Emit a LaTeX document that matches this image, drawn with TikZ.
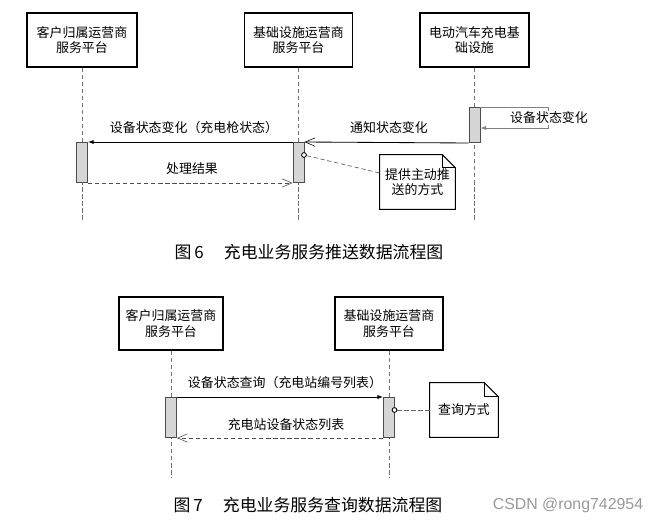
\documentclass[tikz,border=0pt]{standalone}
\usepackage{fontspec}
\newfontfamily\cjk{Noto Sans CJK SC}
\newfontfamily\wmfont{Liberation Sans}
\usetikzlibrary{arrows.meta}
\usetikzlibrary{calc}

\begin{document}
\begin{tikzpicture}[x=0.025cm, y=-0.025cm,
    party/.style={draw, line width=1.1pt, minimum height=1.35cm, align=center, inner sep=0pt,
        font=\cjk\fontsize{9.2}{11}\selectfont},
    lifeline/.style={draw=black!55, line width=0.5pt, dash pattern=on 3pt off 2pt},
    actbar/.style={draw=black!70, fill=black!16, line width=0.7pt, minimum width=0.275cm,
        inner sep=0pt, anchor=north},
    msg/.style={line width=0.6pt, -{Latex[length=4pt,width=3pt]}},
    push/.style={line width=0.6pt, -{Straight Barb[length=7pt,width=6pt,line width=0.4pt]}},
    reply/.style={line width=0.6pt, draw=black!70, dash pattern=on 3pt off 2pt,
        -{Straight Barb[length=7pt,width=6pt,line width=0.4pt]}},
    selfmsg/.style={line width=0.6pt, draw=black!50, -{Latex[length=4pt,width=3pt]}},
    lbl/.style={font=\cjk\fontsize{9.2}{11}\selectfont, inner sep=1pt, align=center},
    notebox/.style={lbl, minimum height=1.35cm},
    noteline/.style={line width=0.7pt},
    notelink/.style={draw=black!60, line width=0.5pt, dash pattern=on 3pt off 2pt},
    hook/.style={circle, draw, line width=0.6pt, fill=white, inner sep=0pt, minimum size=0.12cm},
    caption/.style={font=\cjk\fontsize{12}{14}\selectfont},
    wm/.style={font=\wmfont\fontsize{11.3}{13}\selectfont, text=black!40}]
    \useasboundingbox (0,0) rectangle (658,522);

    \node[party, minimum width=2.75cm] (cpoA) at (82,40) {客户归属运营商\\服务平台};
    \node[party, minimum width=2.7cm] (ipoB) at (298.5,40) {基础设施运营商\\服务平台};
    \node[party, minimum width=2.72cm] (infraC) at (474.5,40) {电动汽车充电基\\础设施};
    \coordinate (endA) at (82,222);
    \coordinate (endB) at (298.5,222);
    \coordinate (endC) at (474.5,222);
    \draw[lifeline] (cpoA.south) -- (endA);
    \draw[lifeline] (ipoB.south) -- (endB);
    \draw[lifeline] (infraC.south) -- (endC);
    \node[actbar, minimum height=1cm] (actA) at (82,142) {};
    \node[actbar, minimum height=1cm] (actB) at (298.5,142) {};
    \node[actbar, minimum height=0.875cm] (actC) at (474.5,107) {};

    \coordinate (selfturn) at (548,128);
    \draw[selfmsg] (actC.north east) -| (selfturn) -- (actC.east |- selfturn);
    \node[lbl, fill=white] (selflbl) at (549,118) {设备状态变化};
    \draw[push] (actC.south west) -- (actB.north east);
    \node[lbl] (notifylbl) at (389,128) {通知状态变化};
    \draw[msg] (actB.north west) -- (actA.north east);
    \node[lbl] (statuslbl) at (194,128) {设备状态变化（充电枪状态）};
    \draw[reply] (actA.south east) -- (actB.south west);
    \node[lbl] (resultlbl) at (192,169) {处理结果};

    \node[notebox, minimum width=1.875cm] (pushnote) at (417.5,182) {提供主动推\\送的方式};
    \draw[noteline] (pushnote.north west) -- ($(pushnote.north east)+(-13,0)$)
        -- ($(pushnote.north east)+(0,13)$) -- (pushnote.south east) -- (pushnote.south west) -- cycle;
    \draw[noteline] ($(pushnote.north east)+(-13,0)$) |- ($(pushnote.north east)+(0,13)$);
    \node[hook] (dotB) at (304,155) {};
    \draw[notelink] (dotB) -- ($(pushnote.west)+(0,-9)$);

    \node[caption] (cap6) at (309,252) {图\,6\hspace{1.2em}充电业务服务推送数据流程图};

    \node[party, minimum width=2.6cm, minimum height=1.325cm] (cpoA2) at (171,323.5) {客户归属运营商\\服务平台};
    \node[party, minimum width=2.7cm, minimum height=1.325cm] (ipoB2) at (389,323.5) {基础设施运营商\\服务平台};
    \coordinate (endA2) at (171,478);
    \coordinate (endB2) at (389,478);
    \draw[lifeline] (cpoA2.south) -- (endA2);
    \draw[lifeline] (ipoB2.south) -- (endB2);
    \node[actbar, minimum height=1cm] (actA2) at (171,397) {};
    \node[actbar, minimum height=1cm] (actB2) at (389,397) {};

    \draw[msg] (actA2.north east) -- (actB2.north west);
    \node[lbl] (querylbl) at (285,383) {设备状态查询（充电站编号列表）};
    \draw[reply] (actB2.south west) -- (actA2.south east);
    \node[lbl] (listlbl) at (286,425) {充电站设备状态列表};

    \node[notebox, minimum width=1.7cm] (querynote) at (464,410) {查询方式};
    \draw[noteline] (querynote.north west) -- ($(querynote.north east)+(-14,0)$)
        -- ($(querynote.north east)+(0,14)$) -- (querynote.south east) -- (querynote.south west) -- cycle;
    \draw[noteline] ($(querynote.north east)+(-14,0)$) |- ($(querynote.north east)+(0,14)$);
    \node[hook] (dotB2) at (394.5,410) {};
    \draw[notelink] (dotB2) -- (querynote.west);

    \node[caption] (cap7) at (308,505) {图\,7\hspace{1.2em}充电业务服务查询数据流程图};
    \node[wm] (mark) at (568,505) {CSDN @rong742954};
\end{tikzpicture}
\end{document}
